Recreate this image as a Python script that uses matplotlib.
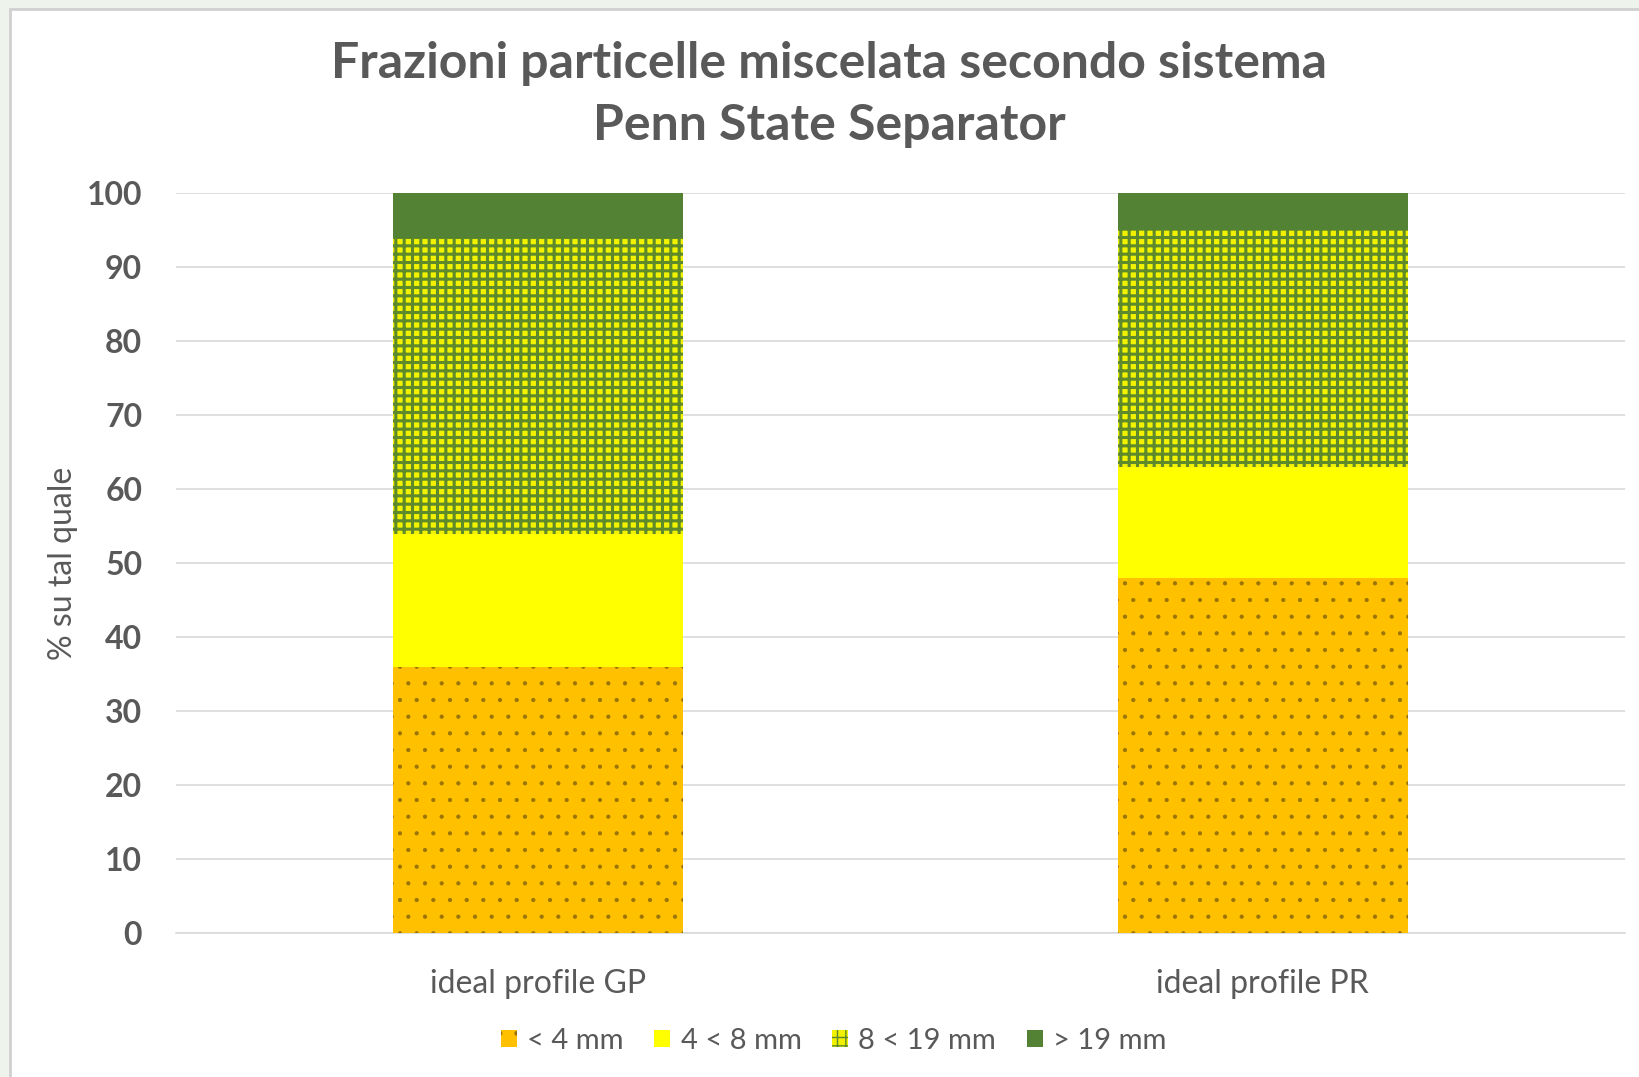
import numpy as np
import matplotlib.pyplot as plt
from matplotlib.patches import Rectangle, Patch

plt.rcParams['font.family'] = ['Lato', 'DejaVu Sans']

# Data
categories = ["ideal profile GP", "ideal profile PR"]
series_names = ["< 4 mm", "4 < 8 mm", "8 < 19 mm", "> 19 mm"]
lt4 = [36, 48]
f4_8 = [18, 15]
f8_19 = [40, 32]
gt19 = [6, 5]
yticks = [0, 10, 20, 30, 40, 50, 60, 70, 80, 90, 100]

face = ["#FFC000", "#FFFF00", "#F2F200", "#548235"]
hatch_col = ["#9A7408", "#FFFF00", "#5E8A2C", "#548235"]
hatches = [".", None, "++", None]
hatch_lw = [0.6, 1.0, 2.2, 1.0]

fig = plt.figure(figsize=(16.39, 10.77), dpi=100, facecolor="#EEF3EC")
fig.patches.append(Rectangle((10 / 1639, -0.01), 1.02, 1 - 9 / 1077 + 0.01,
                             transform=fig.transFigure, facecolor="white",
                             edgecolor="#D0D0D0", linewidth=2, zorder=-5))

ax = fig.add_axes([0.1071, 0.1337, 0.8844, 0.6867])
ax.set_facecolor("white")

x = np.arange(len(categories))
bottom = np.zeros(len(categories))
handles = []
for vals, fc, hc, h, hl, name in zip([lt4, f4_8, f8_19, gt19], face, hatch_col,
                                     hatches, hatch_lw, series_names):
    with plt.rc_context({'hatch.linewidth': hl}):
        ax.bar(x, vals, width=0.4, bottom=bottom, color=fc, edgecolor=hc,
               hatch=h, linewidth=0, zorder=3)
        handles.append(Patch(facecolor=fc, edgecolor=hc, hatch=h, linewidth=0, label=name))
    bottom += np.array(vals)

ax.set_xlim(-0.5, 1.5)
ax.set_ylim(0, 100)
ax.set_yticks(yticks)
ax.set_xticks(x)
ax.set_xticklabels(categories, fontsize=23, color="#595959")
for lab in ax.get_yticklabels():
    lab.set_fontweight("bold")
    lab.set_fontsize(23)
    lab.set_color("#595959")
ax.tick_params(axis="both", length=0)
ax.tick_params(axis="y", pad=24)
ax.tick_params(axis="x", pad=26)
ax.grid(axis="y", color="#D9D9D9", linewidth=1.2, zorder=0)
for s in ["top", "right", "left"]:
    ax.spines[s].set_visible(False)
ax.spines["bottom"].set_color("#D9D9D9")
ax.spines["bottom"].set_linewidth(1.2)

ax.set_ylabel("% su tal quale", fontsize=23, color="#595959", labelpad=6)

fig.text(0.506, 0.912, "Frazioni particelle miscelata secondo sistema\nPenn State Separator",
         ha="center", va="center", fontsize=36, fontweight="bold", color="#595959",
         linespacing=1.45)

ax.legend(handles=handles, loc="center", bbox_to_anchor=(0.454, -0.146), ncol=4,
          frameon=False, fontsize=21, labelcolor="#595959", handlelength=0.55,
          handleheight=0.55, handletextpad=0.35, columnspacing=1.05)

fig.savefig("out.png", dpi=100, facecolor=fig.get_facecolor())
